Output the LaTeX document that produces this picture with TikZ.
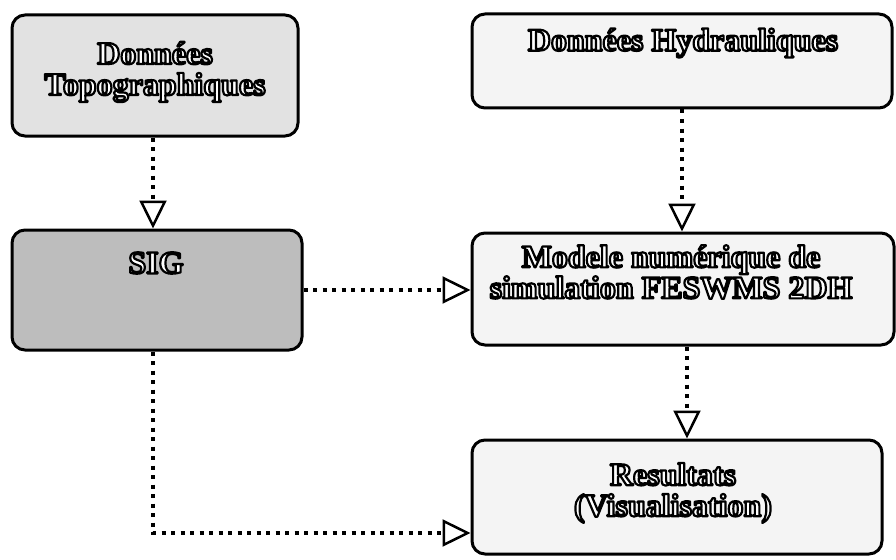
\documentclass[tikz,border=0pt]{standalone}
\usepackage{fontspec}
\setmainfont{Liberation Serif}
\usetikzlibrary{arrows.meta}
\definecolor{fillA}{HTML}{E2E2E2}
\definecolor{fillC}{HTML}{BDBDBD}
\definecolor{fillL}{HTML}{F4F4F4}
\newcommand{\outl}[1]{{\color{white}\special{pdf:literal direct 0 G 2.2 w 1 j 2 Tr}#1\special{pdf:literal direct 0 Tr}}}
\tikzset{
  boxnode/.style={draw=black, line width=3pt, rounded corners=13pt, inner sep=0pt},
  lbl/.style={font=\fontsize{32}{31}\selectfont\bfseries, align=center, inner sep=0pt},
  flow/.style={line width=4pt, dash pattern=on 4pt off 5.5pt,
    -{Triangle[open, length=28pt, width=27pt, line width=2.5pt]}}
}
\begin{document}
\begin{tikzpicture}[x=1pt,y=-1pt]
\useasboundingbox (0,0) rectangle (896,559);
% boxes
\node[boxnode, fill=fillA, minimum width=286pt, minimum height=121pt] (A) at (155,75.5) {};
\node[boxnode, fill=fillL, minimum width=420pt, minimum height=94pt] (B) at (682,61) {};
\node[boxnode, fill=fillC, minimum width=290pt, minimum height=120pt] (C) at (157,290) {};
\node[boxnode, fill=fillL, minimum width=422pt, minimum height=112pt] (D) at (683,289) {};
\node[boxnode, fill=fillL, minimum width=410pt, minimum height=114pt] (E) at (677,497) {};
% texts
\node[lbl] (tA) at (155,72) {\outl{Données}\\\outl{Topographiques}};
\node[lbl] (tB) at (683,43) {\outl{Données Hydrauliques}};
\node[lbl] (tC) at (156,263) {\outl{SIG}};
\node[lbl] (tD) at (671,272) {\outl{Modele numérique de}\\\outl{simulation FESWMS 2DH}};
\node[lbl] (tE) at (673,493) {\outl{Resultats}\\\outl{(Visualisation)}};
% connectors
\coordinate (k) at (153,533);
\draw[flow] ([xshift=-2pt]A.south) -- ([xshift=-2pt]A.south |- C.north);
\draw[flow] (B.south) -- (B.south |- D.north);
\draw[flow] (C.east) -- (C.east -| D.west);
\draw[flow] ([xshift=4pt]D.south) -- ([xshift=4pt]D.south |- E.north);
\draw[flow] ([xshift=-4pt]C.south) -- (k) -- (k -| E.west);
\end{tikzpicture}
\end{document}
